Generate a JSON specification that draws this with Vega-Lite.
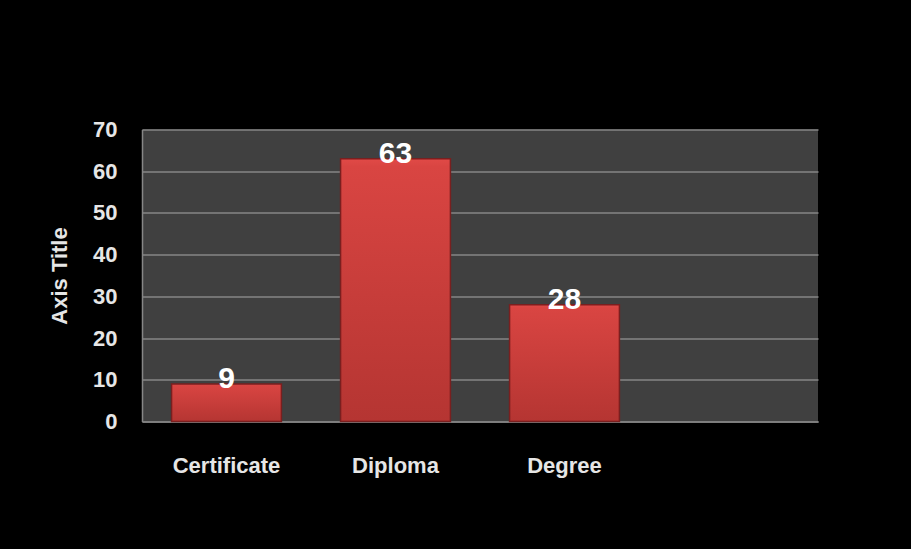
{
  "$schema": "https://vega.github.io/schema/vega-lite/v6.json",
  "width": 676,
  "height": 292,
  "autosize": "none",
  "padding": {"left": 142, "top": 129.5, "right": 93, "bottom": 127.5},
  "background": "#000000",
  "config": {
    "view": {"fill": "#404040", "stroke": null},
    "font": "Liberation Sans"
  },
  "data": {
    "values": [
      {"qualification": "Certificate", "count": 9},
      {"qualification": "Diploma", "count": 63},
      {"qualification": "Degree", "count": 28}
    ]
  },
  "encoding": {
    "x": {
      "field": "qualification",
      "type": "nominal",
      "sort": null,
      "scale": {"domain": ["Certificate", "Diploma", "Degree", " "], "paddingInner": 0.35, "paddingOuter": 0.175},
      "axis": {
        "title": null,
        "labelAngle": 0,
        "labelFont": "Liberation Sans",
        "labelFontSize": 22,
        "labelFontWeight": "bold",
        "labelColor": "#e6e6e6",
        "labelBaseline": "alphabetic",
        "labelPadding": 51,
        "ticks": false,
        "tickSize": 0,
        "domainColor": "#858585",
        "domainWidth": 1.5
      }
    },
    "y": {
      "field": "count",
      "type": "quantitative",
      "scale": {"domain": [0, 70]},
      "axis": {
        "title": "Axis Title",
        "titleFont": "Liberation Sans",
        "titleFontSize": 22,
        "titleFontWeight": "bold",
        "titleColor": "#e6e6e6",
        "titleX": -76,
        "titleY": 146,
        "titleBaseline": "alphabetic",
        "titleAngle": 270,
        "values": [0, 10, 20, 30, 40, 50, 60, 70],
        "labelFont": "Liberation Sans",
        "labelFontSize": 22,
        "labelFontWeight": "bold",
        "labelColor": "#e6e6e6",
        "labelPadding": 25,
        "ticks": false,
        "tickSize": 0,
        "grid": true,
        "gridColor": "#868686",
        "gridWidth": 1.5,
        "domainColor": "#868686",
        "domainWidth": 1.5
      }
    }
  },
  "layer": [
    {
      "mark": {
        "type": "bar",
        "stroke": "#7a1f1f",
        "strokeWidth": 1.5,
        "color": {
          "gradient": "linear",
          "x1": 0, "y1": 0, "x2": 0, "y2": 1,
          "stops": [
            {"offset": 0, "color": "#e14a47"},
            {"offset": 0.03, "color": "#d94542"},
            {"offset": 1, "color": "#b53532"}
          ]
        }
      }
    },
    {
      "mark": {
        "type": "text",
        "font": "Liberation Sans",
        "fontSize": 30,
        "fontWeight": "bold",
        "color": "#ffffff",
        "baseline": "alphabetic",
        "align": "center",
        "dy": 4
      },
      "encoding": {
        "text": {"field": "count", "type": "quantitative"}
      }
    }
  ]
}
